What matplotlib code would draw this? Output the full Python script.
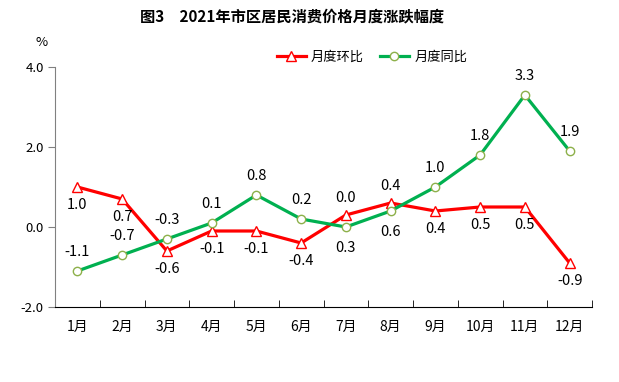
import matplotlib.pyplot as plt

plt.rcParams['font.family'] = ['Noto Sans CJK SC', 'DejaVu Sans']

months = ['1月', '2月', '3月', '4月', '5月', '6月', '7月', '8月', '9月', '10月', '11月', '12月']
mom = [1.0, 0.7, -0.6, -0.1, -0.1, -0.4, 0.3, 0.6, 0.4, 0.5, 0.5, -0.9]
yoy = [-1.1, -0.7, -0.3, 0.1, 0.8, 0.2, 0.0, 0.4, 1.0, 1.8, 3.3, 1.9]
# label texts as printed in the source chart (7月/8月 labels are swapped there)
mom_text = ['1.0', '0.7', '-0.6', '-0.1', '-0.1', '-0.4', '0.0', '0.4', '0.4', '0.5', '0.5', '-0.9']
yoy_text = ['-1.1', '-0.7', '-0.3', '0.1', '0.8', '0.2', '0.3', '0.6', '1.0', '1.8', '3.3', '1.9']
mom_above = [False] * 6 + [True, True] + [False] * 4
yoy_above = [True] * 6 + [False, False] + [True] * 4

fig = plt.figure(figsize=(6.19, 3.82), dpi=100)
ax = fig.add_axes([55 / 619, 1 - 307 / 382, (592 - 55) / 619, 240 / 382])

x = list(range(len(months)))
red = '#FF0000'
green = '#00B050'

ax.plot(x, mom, color=red, lw=2.3, marker='^', ms=6.5, mfc='white', mec=red, mew=1.0,
        label='月度环比', zorder=3)
ax.plot(x, yoy, color=green, lw=2.3, marker='o', ms=6, mfc='white', mec='#8DB04A', mew=1.0,
        label='月度同比', zorder=3)

for i in x:
    dy = 12 if mom_above[i] else -13
    ax.annotate(mom_text[i], (i, mom[i]), xytext=(0, dy), textcoords='offset points',
                ha='center', va='center', fontsize=10.5)
    dy = 14 if yoy_above[i] else -15
    ax.annotate(yoy_text[i], (i, yoy[i]), xytext=(0, dy), textcoords='offset points',
                ha='center', va='center', fontsize=10.5)

ax.set_xlim(-0.5, 11.5)
ax.set_ylim(-2, 4)
ax.set_yticks([-2, 0, 2, 4])
ax.set_yticklabels(['-2.0', '0.0', '2.0', '4.0'], fontsize=9.5)
ax.set_xticks(x)
ax.set_xticklabels(months, fontsize=10)
ax.set_xticks([i - 0.5 for i in range(13)], minor=True)
ax.tick_params(axis='x', which='major', length=0, pad=9)
ax.tick_params(axis='x', which='minor', direction='in', length=5, color='black')
ax.tick_params(axis='y', direction='out', length=5, color='#808080', pad=3)

for s in ['top', 'right']:
    ax.spines[s].set_visible(False)
ax.spines['left'].set_color('#808080')
ax.spines['bottom'].set_color('black')

fig.text(42 / 619, 1 - 42 / 382, '%', ha='center', va='center', fontsize=9.5)
fig.text(292 / 619, 1 - 16 / 382, '图3　2021年市区居民消费价格月度涨跌幅度',
         ha='center', va='center', fontsize=11, fontweight='bold')

fig.legend(loc='center', bbox_to_anchor=(372 / 619, 1 - 57 / 382), ncol=2, frameon=False,
           fontsize=9.5, handlelength=2.2, columnspacing=1.2, handletextpad=0.4)

fig.savefig('out.png', dpi=100)
